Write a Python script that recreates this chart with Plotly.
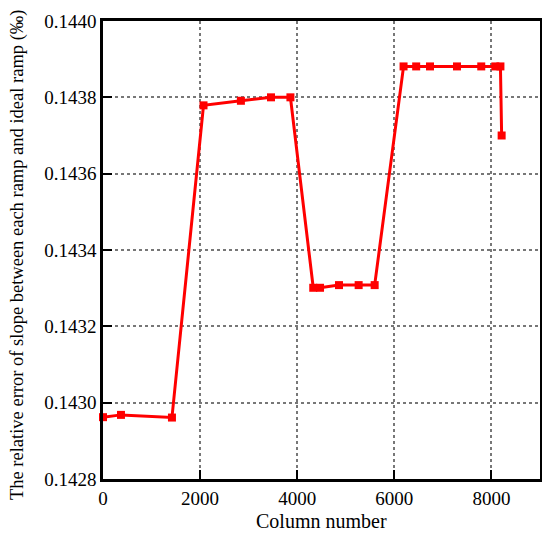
import plotly.graph_objects as go

column_number = [0, 370, 1420, 2070, 2840, 3460, 3860, 4330, 4470, 4860, 5265, 5595,
                 6190, 6450, 6735, 7290, 7790, 8080, 8185, 8210]
relative_error = [0.142962, 0.142968, 0.142961, 0.143779, 0.143791, 0.143800, 0.143800,
                  0.143301, 0.143301, 0.143308, 0.143308, 0.143308,
                  0.143881, 0.143881, 0.143881, 0.143881, 0.143881, 0.143881, 0.143881, 0.143700]

x_ticks = [0, 2000, 4000, 6000, 8000]
y_ticks = [0.1428, 0.1430, 0.1432, 0.1434, 0.1436, 0.1438, 0.1440]
y_tick_labels = ["0.1428", "0.1430", "0.1432", "0.1434", "0.1436", "0.1438", "0.1440"]
x_title = "Column number"
y_title = "The relative error of slope between each ramp and ideal ramp (‰)"

fig = go.Figure()
fig.add_trace(go.Scatter(
    x=column_number, y=relative_error, mode="lines+markers",
    line=dict(color="#ff0000", width=3),
    marker=dict(symbol="square", size=8, color="#ff0000"),
    showlegend=False, cliponaxis=False,
))

font = dict(family="Liberation Serif, Times New Roman, serif", color="black")
fig.update_layout(
    width=542, height=530,
    margin=dict(l=95, r=10, t=13, b=59, autoexpand=False),
    plot_bgcolor="white", paper_bgcolor="white",
    font=dict(**font, size=19),
)
axis_common = dict(
    ticks="inside", ticklen=9, tickwidth=2, tickcolor="black",
    showline=True, linecolor="black", linewidth=2.5, mirror=True,
    showgrid=True, gridcolor="#777777", griddash="dot", gridwidth=1.5,
    zeroline=False, tickfont=dict(size=19), automargin=False,
)
fig.update_xaxes(range=[0, 9000], tickvals=x_ticks, **axis_common)
fig.update_yaxes(range=[0.1428, 0.1440], tickvals=y_ticks, ticktext=y_tick_labels,
                 **axis_common)
fig.add_annotation(
    text=y_title, textangle=-90, xref="paper", yref="paper",
    x=-86 / 437, y=0.489, xanchor="center", yanchor="middle", showarrow=False,
    font=dict(size=18.5),
)
fig.add_annotation(
    text=x_title, xref="paper", yref="paper",
    x=0.5, y=-42 / 458, xanchor="center", yanchor="middle", showarrow=False,
    font=dict(size=20),
)
fig.write_html("out.html")
